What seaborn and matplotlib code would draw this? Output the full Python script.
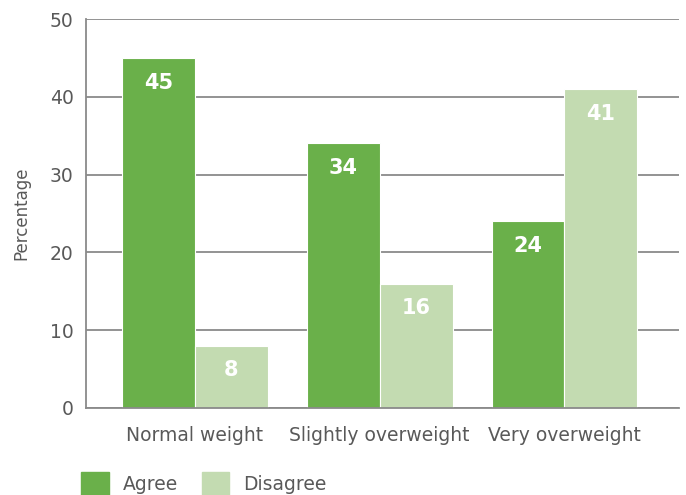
import pandas as pd
import matplotlib.pyplot as plt
import seaborn as sns

# Dados
categorias = ['Normal weight', 'Slightly overweight', 'Very overweight']
agree = [45, 34, 24]
disagree = [8, 16, 41]
grupos = ['Agree', 'Disagree']
cores = ['#6ab04a', '#c3dbb1']

df = pd.DataFrame({
    'categoria': categorias * 2,
    'resposta': ['Agree'] * 3 + ['Disagree'] * 3,
    'valor': agree + disagree,
})

sns.set_style('white')
plt.rcParams['font.family'] = ['DejaVu Sans']

fig = plt.figure(figsize=(6.86, 4.95), dpi=100)
ax = fig.add_axes([0.1254, 0.1758, 0.8644, 0.7858])

sns.barplot(data=df, x='categoria', y='valor', hue='resposta', palette=cores,
            width=0.79, saturation=1, ax=ax, legend=False, edgecolor='white', linewidth=0.8)

for container in ax.containers:
    ax.bar_label(container, padding=-25, color='white', fontweight='bold', fontsize=15)

ax.set_ylim(0, 50)
ax.set_xlim(-0.59, 2.62)
ax.set_yticks([0, 10, 20, 30, 40, 50])
ax.yaxis.grid(True, color='#8a8a8a', linewidth=1.3)
ax.set_axisbelow(True)
for s in ['top', 'right']:
    ax.spines[s].set_visible(False)
for s in ['left', 'bottom']:
    ax.spines[s].set_color('#8a8a8a')
    ax.spines[s].set_linewidth(1.3)
ax.tick_params(axis='y', length=0, labelsize=13.5, labelcolor='#595959', pad=9)
ax.tick_params(axis='x', length=0, labelsize=13.5, labelcolor='#595959', pad=13)
ax.set_xlabel('')
ax.set_ylabel('Percentage', fontsize=12, color='#595959', labelpad=14)

handles = [plt.Rectangle((0, 0), 1, 1, color=c) for c in cores]
fig.legend(handles, grupos, loc='upper left', bbox_to_anchor=(0.094, 0.08), ncol=2,
           frameon=False, fontsize=13.5, handlelength=1.45, handleheight=1.45,
           columnspacing=1.3, handletextpad=0.75, labelcolor='#595959')

plt.savefig('out.png', dpi=100)
